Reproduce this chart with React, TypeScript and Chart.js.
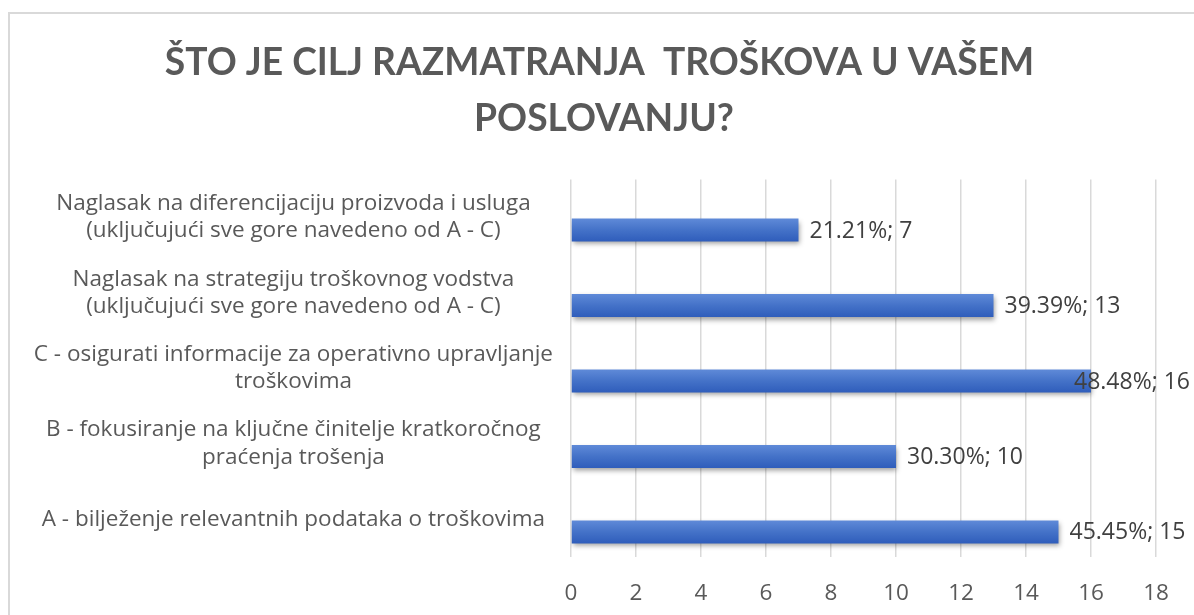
import React, { useEffect, useRef } from 'react';
import { Chart, registerables } from 'chart.js';

Chart.register(...registerables);

const titleLines = ['ŠTO JE CILJ RAZMATRANJA  TROŠKOVA U VAŠEM ', 'POSLOVANJU?'];

const categories: string[][] = [
  ['Naglasak na diferencijaciju proizvoda i usluga', '(uključujući sve gore navedeno od A - C)'],
  ['Naglasak na strategiju troškovnog vodstva', '(uključujući sve gore navedeno od A - C)'],
  ['C - osigurati informacije za operativno upravljanje', 'troškovima'],
  ['B - fokusiranje na ključne činitelje kratkoročnog', 'praćenja trošenja'],
  ['A - bilježenje relevantnih podataka o troškovima'],
];

const counts = [7, 13, 16, 10, 15];
const percentLabels = ['21.21%', '39.39%', '48.48%', '30.30%', '45.45%'];
const spacerValues = [0, 0, 0, 0, 0];

const xMin = 0;
const xMax = 18;
const xStep = 2;

const TITLE_FONT = 'Lato';
const FONT = '"Open Sans"';
const FONT_SIZE = 22.5;
const VALUE_FONT_SIZE = 23;
const TEXT_GRAY = '#595959';
const LABEL_GRAY = '#404040';

const barShadow = {
  id: 'barShadow',
  beforeDatasetDraw(chart: any, args: any) {
    if (args.index !== 1) return;
    const ctx = chart.ctx;
    ctx.save();
    ctx.shadowColor = 'rgba(0,0,0,0.38)';
    ctx.shadowBlur = 5;
    ctx.shadowOffsetX = 1;
    ctx.shadowOffsetY = 3;
  },
  afterDatasetDraw(chart: any, args: any) {
    if (args.index !== 1) return;
    chart.ctx.restore();
  },
};

const valueLabels = {
  id: 'valueLabels',
  afterDatasetsDraw(chart: any) {
    const ctx = chart.ctx;
    const meta = chart.getDatasetMeta(1);
    ctx.save();
    ctx.font = `${VALUE_FONT_SIZE}px ${FONT}`;
    ctx.fillStyle = LABEL_GRAY;
    ctx.textBaseline = 'middle';
    ctx.textAlign = 'left';
    const rightLimit = chart.width - 8;
    meta.data.forEach((bar: any, i: number) => {
      const text = `${percentLabels[i]}; ${counts[i]}`;
      const w = ctx.measureText(text).width;
      let x = bar.x + 11;
      if (x + w > rightLimit) x = rightLimit - w;
      ctx.fillText(text, x, bar.y + 1);
    });
    ctx.restore();
  },
};

function barGradient(c: any) {
  const chart = c.chart;
  const meta = chart.getDatasetMeta(c.datasetIndex);
  const el = meta && meta.data ? meta.data[c.dataIndex] : null;
  if (!el || el.y === undefined || el.height === undefined || isNaN(el.y)) return '#4472c4';
  const top = el.y - el.height / 2;
  const bottom = el.y + el.height / 2;
  const g = chart.ctx.createLinearGradient(0, top, 0, bottom);
  g.addColorStop(0, '#5f8ad8');
  g.addColorStop(0.5, '#4472c8');
  g.addColorStop(1, '#2f5dbb');
  return g;
}

export default function App() {
  const ref = useRef<HTMLCanvasElement | null>(null);

  useEffect(() => {
    if (!ref.current) return;
    const chart = new Chart(ref.current, {
      type: 'bar',
      data: {
        labels: categories,
        datasets: [
          {
            label: 'spacer',
            data: spacerValues,
            backgroundColor: 'rgba(0,0,0,0)',
            categoryPercentage: 0.672,
            barPercentage: 0.905,
          },
          {
            label: 'Broj odgovora',
            data: counts,
            backgroundColor: barGradient,
            borderWidth: 0,
            categoryPercentage: 0.672,
            barPercentage: 0.905,
          },
        ],
      },
      options: {
        indexAxis: 'y',
        responsive: false,
        animation: false,
        devicePixelRatio: 1,
        layout: { padding: { left: 0, right: 0, top: 0, bottom: 0 } },
        plugins: {
          legend: { display: false },
          tooltip: { enabled: false },
          title: {
            display: true,
            text: titleLines,
            color: TEXT_GRAY,
            font: { family: TITLE_FONT, size: 37.2, weight: 'bold', lineHeight: 1.5 },
            padding: { top: 21.5, bottom: 32.5 },
          },
        },
        scales: {
          x: {
            type: 'linear',
            min: xMin,
            max: xMax,
            border: { display: false },
            grid: { color: '#d9d9d9', lineWidth: 1.5, drawTicks: false },
            afterFit: (s: any) => {
              s.paddingRight = 42;
            },
            ticks: {
              stepSize: xStep,
              color: TEXT_GRAY,
              padding: 23,
              font: { family: FONT, size: FONT_SIZE, lineHeight: 1.2 },
            },
          },
          y: {
            border: { display: false },
            grid: { display: false, drawTicks: false },
            afterFit: (s: any) => {
              s.width = 561;
            },
            ticks: {
              color: TEXT_GRAY,
              crossAlign: 'center',
              padding: 18,
              font: { family: FONT, size: FONT_SIZE, lineHeight: 1.22 },
            },
          },
        },
      },
      plugins: [barShadow, valueLabels],
    } as any);
    chart.update();
    return () => chart.destroy();
  }, []);

  return (
    <div style={{ position: 'fixed', left: 0, top: 0, width: 1194, height: 615, overflow: 'hidden', background: '#fff' }}>
      <div
        style={{
          position: 'absolute',
          left: 8,
          top: 12,
          width: 1300,
          height: 700,
          border: '2px solid #d9d9d9',
          boxSizing: 'border-box',
        }}
      >
        <canvas ref={ref} width={1188} height={616} style={{ display: 'block', width: 1188, height: 616 }} />
      </div>
    </div>
  );
}
